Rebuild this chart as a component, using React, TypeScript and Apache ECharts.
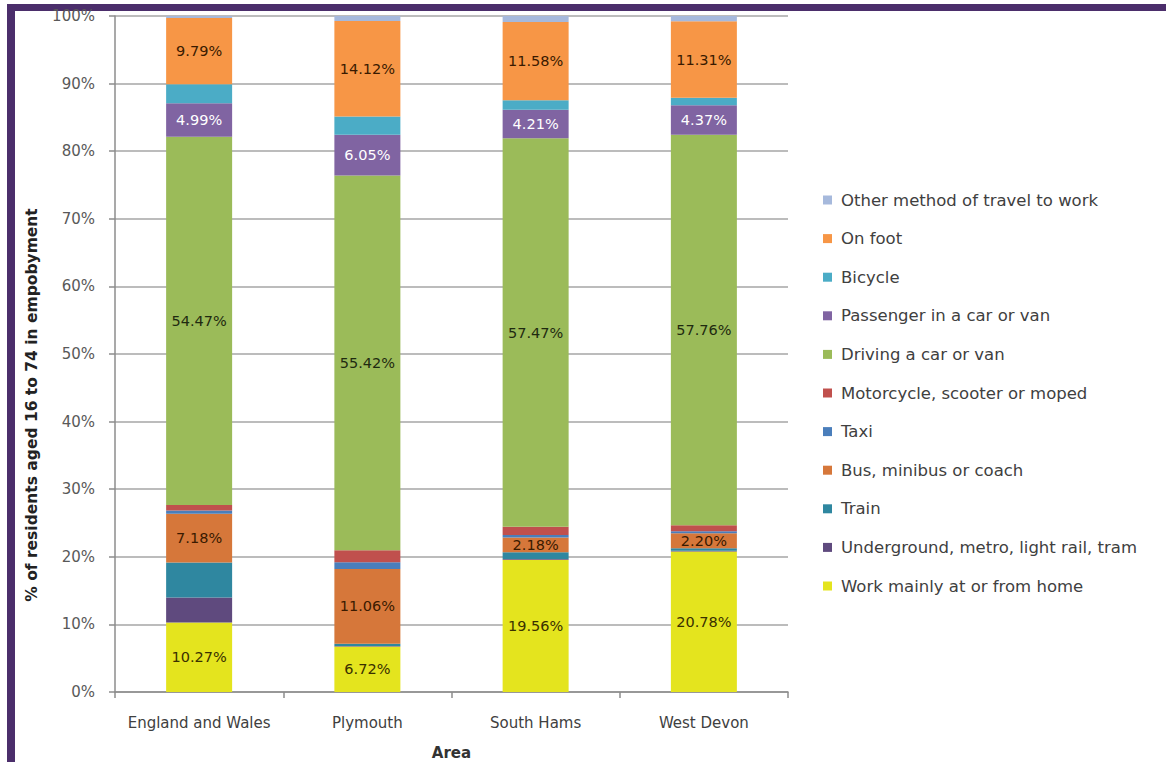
import React, { useEffect, useRef } from "react";
import * as echarts from "echarts";

const categories = ["England and Wales", "Plymouth", "South Hams", "West Devon"];

const workAtHome = [10.27, 6.72, 19.56, 20.78];
const underground = [3.7, 0.1, 0.1, 0.1];
const train = [5.2, 0.3, 1.0, 0.4];
const bus = [7.18, 11.06, 2.18, 2.2];
const taxi = [0.5, 1.0, 0.4, 0.3];
const motorcycle = [0.8, 1.8, 1.2, 0.9];
const driving = [54.47, 55.42, 57.47, 57.76];
const passenger = [4.99, 6.05, 4.21, 4.37];
const bicycle = [2.8, 2.7, 1.4, 1.1];
const onFoot = [9.79, 14.12, 11.58, 11.31];
const other = [0.3, 0.73, 0.9, 0.78];

const yTicks = [0, 10, 20, 30, 40, 50, 60, 70, 80, 90, 100];

const seriesDefs = [
  { name: "Work mainly at or from home", data: workAtHome, color: "#e4e41e", label: true, labelColor: "#3a3000" },
  { name: "Underground, metro, light rail, tram", data: underground, color: "#5f4a7e", label: false, labelColor: "#000" },
  { name: "Train", data: train, color: "#2f87a0", label: false, labelColor: "#000" },
  { name: "Bus, minibus or coach", data: bus, color: "#d6773a", label: true, labelColor: "#3a1a00" },
  { name: "Taxi", data: taxi, color: "#4a7ebb", label: false, labelColor: "#000" },
  { name: "Motorcycle, scooter or moped", data: motorcycle, color: "#c0504d", label: false, labelColor: "#000" },
  { name: "Driving a car or van", data: driving, color: "#9bbb59", label: true, labelColor: "#1f2a10" },
  { name: "Passenger in a car or van", data: passenger, color: "#8064a2", label: true, labelColor: "#ffffff" },
  { name: "Bicycle", data: bicycle, color: "#4bacc6", label: false, labelColor: "#000" },
  { name: "On foot", data: onFoot, color: "#f79646", label: true, labelColor: "#3a1a00" },
  { name: "Other method of travel to work", data: other, color: "#a6b9dc", label: false, labelColor: "#000" },
];

const FONT = "'DejaVu Sans', sans-serif";

export default function App() {
  const ref = useRef<HTMLDivElement>(null);
  useEffect(() => {
    document.body.style.margin = "0";
    const chart = echarts.init(ref.current!, null, { renderer: "svg" });
    const option: any = {
      animation: false,
      backgroundColor: "#ffffff",
      textStyle: { fontFamily: FONT },
      grid: { left: 115, top: 16, width: 673, height: 676, outerBoundsMode: "none", containLabel: false },
      legend: {
        orient: "vertical",
        left: 818,
        top: 186,
        itemWidth: 9,
        itemHeight: 9,
        itemGap: 20.6,
        icon: "rect",
        textStyle: { fontFamily: FONT, fontSize: 16.5, color: "#404040", lineHeight: 18, padding: [0, 0, 0, 4] },
        data: seriesDefs.map((s) => s.name).reverse(),
      },
      xAxis: {
        type: "category",
        data: categories,
        name: "Area",
        nameLocation: "middle",
        nameGap: 53,
        nameTextStyle: { fontFamily: FONT, fontSize: 15, fontWeight: "bold", color: "#333" },
        axisLine: { lineStyle: { color: "#8c8c8c", width: 1.5 } },
        axisTick: { show: true, interval: 0, alignWithLabel: false, length: 6, lineStyle: { color: "#8c8c8c", width: 1.5 } },
        axisLabel: { interval: 0, fontFamily: FONT, fontSize: 15, color: "#404040", margin: 23 },
      },
      yAxis: {
        type: "value",
        min: 0,
        max: 100,
        interval: 10,
        axisLine: { show: true, lineStyle: { color: "#8c8c8c", width: 1.5 } },
        axisTick: { show: true, length: 6, lineStyle: { color: "#8c8c8c", width: 1.5 } },
        splitLine: { lineStyle: { color: "#a6a6a6", width: 1.5 } },
        axisLabel: {
          fontFamily: FONT,
          fontSize: 15,
          color: "#595959",
          margin: 20,
          formatter: (v: number) => (yTicks.includes(v) ? v + "%" : ""),
        },
      },
      series: seriesDefs.map((s) => ({
        name: s.name,
        type: "bar",
        stack: "total",
        barWidth: 66,
        data: s.data,
        itemStyle: { color: s.color },
        label: {
          show: s.label,
          position: "inside",
          fontFamily: FONT,
          fontSize: 14.5,
          color: s.labelColor,
          formatter: (p: any) => Number(p.value).toFixed(2) + "%",
        },
      })),
      graphic: [
        { type: "rect", shape: { x: 7, y: 4, width: 8, height: 758 }, style: { fill: "#4b2e6b" } },
        { type: "rect", shape: { x: 7, y: 4, width: 1159, height: 7 }, style: { fill: "#4b2e6b" } },
        {
          type: "text",
          x: 32,
          y: 405,
          rotation: Math.PI / 2,
          style: {
            text: "% of residents aged 16 to 74 in empobyment",
            fontFamily: FONT,
            fontSize: 15.5,
            fontWeight: "bold",
            fill: "#222",
            align: "center",
            verticalAlign: "middle",
          },
        },
      ],
    };
    chart.setOption(option);
    return () => chart.dispose();
  }, []);
  return <div ref={ref} style={{ width: 1166, height: 762 }} />;
}
